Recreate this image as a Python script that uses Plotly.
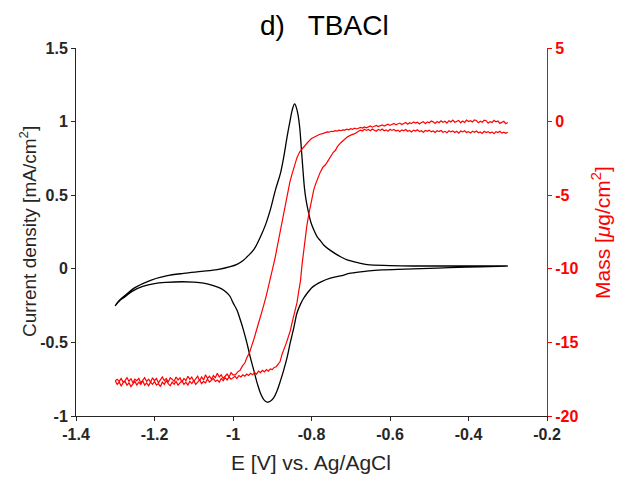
import plotly.graph_objects as go

# ---------------- data ----------------
# Current density (mA/cm^2) vs E (V), cathodic sweep then anodic sweep
cv_E = [-0.30, -0.37, -0.45, -0.50, -0.56, -0.62, -0.66, -0.70, -0.726, -0.75, -0.777, -0.79, -0.80, -0.811,
        -0.82, -0.828, -0.837, -0.845, -0.854, -0.862, -0.871, -0.879, -0.888, -0.896, -0.905, -0.913,
        -0.921, -0.930, -0.938, -0.947, -0.956, -0.964, -0.973, -0.981, -0.990, -1.00, -1.007, -1.015,
        -1.03, -1.05, -1.075, -1.10, -1.13, -1.17, -1.20, -1.23, -1.255, -1.275, -1.29, -1.30,
        -1.29, -1.27, -1.25, -1.21, -1.17, -1.126, -1.08, -1.04, -1.007, -0.99, -0.975, -0.964, -0.947,
        -0.930, -0.917, -0.905, -0.892, -0.879, -0.870, -0.862, -0.855, -0.849, -0.843, -0.838, -0.834,
        -0.830, -0.826, -0.822, -0.818, -0.814, -0.809, -0.802, -0.794, -0.785, -0.777, -0.769, -0.752,
        -0.726, -0.709, -0.68, -0.658, -0.60, -0.54, -0.45, -0.30]
cv_j = [0.018, 0.014, 0.008, 0.003, -0.002, -0.007, -0.016, -0.03, -0.048, -0.062, -0.09, -0.11, -0.13, -0.166,
        -0.20, -0.24, -0.30, -0.40, -0.50, -0.60, -0.69, -0.76, -0.83, -0.875, -0.90, -0.905,
        -0.89, -0.845, -0.78, -0.69, -0.60, -0.51, -0.42, -0.35, -0.28, -0.23, -0.19, -0.165,
        -0.135, -0.115, -0.098, -0.091, -0.088, -0.092, -0.10, -0.12, -0.15, -0.19, -0.22, -0.25,
        -0.215, -0.17, -0.128, -0.078, -0.048, -0.031, -0.018, -0.006, 0.014, 0.03, 0.055, 0.082, 0.13,
        0.218, 0.30, 0.40, 0.535, 0.65, 0.77, 0.90, 1.00, 1.08, 1.12, 1.09, 1.04,
        0.96, 0.82, 0.68, 0.55, 0.47, 0.40, 0.32, 0.264, 0.215, 0.19, 0.162, 0.125,
        0.082, 0.06, 0.04, 0.028, 0.022, 0.019, 0.019, 0.019]

# ---- Mass change (ug/cm^2), cathodic sweep (-0.3 -> -1.3) ----
# flat upper part
mcat_top_E = [-0.300, -0.305, -0.310, -0.315, -0.320, -0.325, -0.330, -0.335, -0.340, -0.345,
              -0.350, -0.355, -0.360, -0.365, -0.370, -0.375, -0.380, -0.385, -0.390, -0.395,
              -0.400, -0.405, -0.410, -0.415, -0.420, -0.425, -0.430, -0.435, -0.440, -0.445,
              -0.450, -0.455, -0.460, -0.465, -0.470, -0.475, -0.480, -0.485, -0.490, -0.495,
              -0.500, -0.505, -0.510, -0.515, -0.520, -0.525, -0.530, -0.535, -0.540, -0.545,
              -0.550, -0.555, -0.560, -0.565, -0.570, -0.575, -0.580, -0.585, -0.590, -0.595,
              -0.600, -0.605, -0.610, -0.615, -0.620, -0.625, -0.630, -0.635, -0.640, -0.645,
              -0.650, -0.655, -0.660, -0.665, -0.670, -0.675, -0.680, -0.685, -0.690, -0.695,
              -0.700, -0.705, -0.710, -0.715, -0.720, -0.725, -0.730, -0.735, -0.740, -0.745,
              -0.750, -0.755, -0.760, -0.765, -0.770]
mcat_top_m = [-0.06, -0.14, 0.02, -0.08, -0.12, 0.04, -0.02, 0.08, -0.06, 0.00,
              -0.10, 0.06, 0.10, -0.04, 0.02, -0.08, 0.08, 0.12, -0.02, 0.06,
              0.00, 0.10, -0.06, 0.04, -0.08, 0.08, 0.02, -0.04, 0.10, -0.02,
              0.06, -0.10, 0.02, -0.04, 0.06, -0.08, 0.00, -0.12, -0.02, 0.04,
              -0.08, -0.02, -0.14, 0.00, -0.06, -0.16, -0.04, -0.10, -0.02, -0.14,
              -0.08, -0.18, -0.06, -0.12, -0.20, -0.10, -0.16, -0.22, -0.12, -0.20,
              -0.26, -0.18, -0.24, -0.30, -0.22, -0.28, -0.34, -0.26, -0.32, -0.38,
              -0.30, -0.36, -0.42, -0.36, -0.44, -0.40, -0.46, -0.50, -0.44, -0.52,
              -0.48, -0.56, -0.52, -0.58, -0.56, -0.62, -0.58, -0.64, -0.62, -0.68,
              -0.66, -0.72, -0.70, -0.76, -0.80]
# steep drop (left S)
mcat_s_E = [-0.78, -0.79, -0.80, -0.81, -0.82, -0.83, -0.837, -0.845, -0.85, -0.855, -0.86, -0.865,
            -0.871, -0.877, -0.883, -0.888, -0.893, -0.898, -0.904, -0.909, -0.915, -0.922, -0.928,
            -0.935, -0.941, -0.947, -0.952, -0.958, -0.964, -0.970, -0.976, -0.982, -0.988, -0.994]
mcat_s_m = [-0.88, -1.02, -1.15, -1.42, -1.70, -2.05, -2.45, -3.1, -3.6, -4.1, -4.75, -5.4,
            -6.2, -7.0, -7.8, -8.6, -9.3, -9.9, -10.6, -11.2, -11.8, -12.5, -13.1,
            -13.7, -14.3, -14.8, -15.2, -15.7, -16.0, -16.4, -16.6, -16.9, -17.0, -17.2]
# flat lower part
mcat_bot_E = [-1.000, -1.005, -1.010, -1.015, -1.020, -1.025, -1.030, -1.035, -1.040, -1.045,
              -1.050, -1.055, -1.060, -1.065, -1.070, -1.075, -1.080, -1.085, -1.090, -1.095,
              -1.100, -1.105, -1.110, -1.115, -1.120, -1.125, -1.130, -1.135, -1.140, -1.145,
              -1.150, -1.155, -1.160, -1.165, -1.170, -1.175, -1.180, -1.185, -1.190, -1.195,
              -1.200, -1.205, -1.210, -1.215, -1.220, -1.225, -1.230, -1.235, -1.240, -1.245,
              -1.250, -1.255, -1.260, -1.265, -1.270, -1.275, -1.280, -1.285, -1.290, -1.295, -1.300]
mcat_bot_m = [-17.20, -17.05, -17.35, -17.15, -17.30, -17.45, -17.20, -17.35, -17.10, -17.40,
              -17.25, -17.50, -17.30, -17.45, -17.20, -17.55, -17.35, -17.60, -17.30, -17.45,
              -17.65, -17.35, -17.50, -17.30, -17.60, -17.45, -17.70, -17.40, -17.55, -17.35,
              -17.65, -17.50, -17.40, -17.70, -17.45, -17.60, -17.35, -17.55, -17.75, -17.45,
              -17.60, -17.40, -17.70, -17.50, -17.65, -17.40, -17.55, -17.75, -17.45, -17.60,
              -17.50, -17.75, -17.45, -17.65, -17.40, -17.60, -17.70, -17.45, -17.65, -17.50, -17.60]

# ---- Mass change (ug/cm^2), anodic sweep (-1.3 -> -0.3) ----
man_bot_E = [-1.300, -1.295, -1.290, -1.285, -1.280, -1.275, -1.270, -1.265, -1.260, -1.255,
             -1.250, -1.245, -1.240, -1.235, -1.230, -1.225, -1.220, -1.215, -1.210, -1.205,
             -1.200, -1.195, -1.190, -1.185, -1.180, -1.175, -1.170, -1.165, -1.160, -1.155,
             -1.150, -1.145, -1.140, -1.135, -1.130, -1.125, -1.120, -1.115, -1.110, -1.105,
             -1.100, -1.095, -1.090, -1.085, -1.080, -1.075, -1.070, -1.065, -1.060, -1.055,
             -1.050, -1.045, -1.040, -1.035, -1.030, -1.025, -1.020, -1.015, -1.010, -1.005,
             -1.000, -0.995, -0.990, -0.985, -0.980, -0.975, -0.970, -0.965, -0.960, -0.955,
             -0.950, -0.945, -0.940, -0.935, -0.930, -0.925, -0.920, -0.915, -0.910, -0.905,
             -0.900, -0.895, -0.890, -0.885, -0.880]
man_bot_m = [-17.60, -17.85, -17.70, -17.95, -17.75, -17.65, -17.90, -17.75, -18.00, -17.80,
             -17.65, -17.90, -17.70, -17.85, -17.60, -17.90, -17.75, -17.95, -17.70, -17.85,
             -17.65, -17.90, -17.80, -18.00, -17.70, -17.85, -17.60, -17.80, -17.95, -17.70,
             -17.85, -17.65, -17.90, -17.75, -17.60, -17.85, -17.70, -17.90, -17.65, -17.80,
             -17.60, -17.85, -17.70, -17.55, -17.80, -17.65, -17.75, -17.50, -17.70, -17.60,
             -17.45, -17.65, -17.55, -17.70, -17.45, -17.60, -17.40, -17.55, -17.35, -17.50,
             -17.40, -17.30, -17.45, -17.25, -17.35, -17.20, -17.30, -17.15, -17.25, -17.10,
             -17.20, -17.05, -17.15, -16.95, -17.05, -16.90, -17.00, -16.85, -16.95, -16.80,
             -16.85, -16.70, -16.65, -16.50, -16.30]
# steep rise (right S)
man_s_E = [-0.875, -0.870, -0.865, -0.86, -0.854, -0.849, -0.845, -0.841, -0.837, -0.833, -0.828,
           -0.824, -0.820, -0.816, -0.812, -0.807, -0.803, -0.798, -0.794, -0.789, -0.784, -0.778,
           -0.771, -0.765, -0.760, -0.752, -0.745, -0.739, -0.734, -0.726, -0.718, -0.709, -0.70, -0.69]
man_s_m = [-15.8, -15.5, -15.1, -14.7, -14.2, -13.6, -13.2, -12.8, -12.3, -11.6, -10.8,
           -9.7, -8.7, -7.8, -7.1, -6.3, -5.7, -5.1, -4.6, -4.2, -3.8, -3.45,
           -3.1, -2.95, -2.75, -2.4, -2.1, -1.95, -1.7, -1.45, -1.25, -1.05, -0.92, -0.82]
man_top_E = [-0.680, -0.675, -0.670, -0.665, -0.660, -0.655, -0.650, -0.645, -0.640, -0.635,
             -0.630, -0.625, -0.620, -0.615, -0.610, -0.605, -0.600, -0.595, -0.590, -0.585,
             -0.580, -0.575, -0.570, -0.565, -0.560, -0.555, -0.550, -0.545, -0.540, -0.535,
             -0.530, -0.525, -0.520, -0.515, -0.510, -0.505, -0.500, -0.495, -0.490, -0.485,
             -0.480, -0.475, -0.470, -0.465, -0.460, -0.455, -0.450, -0.445, -0.440, -0.435,
             -0.430, -0.425, -0.420, -0.415, -0.410, -0.405, -0.400, -0.395, -0.390, -0.385,
             -0.380, -0.375, -0.370, -0.365, -0.360, -0.355, -0.350, -0.345, -0.340, -0.335,
             -0.330, -0.325, -0.320, -0.315, -0.310, -0.305, -0.300]
man_top_m = [-0.66, -0.58, -0.64, -0.52, -0.60, -0.54, -0.62, -0.50, -0.58, -0.66,
             -0.54, -0.60, -0.50, -0.62, -0.56, -0.66, -0.52, -0.60, -0.54, -0.64,
             -0.58, -0.68, -0.56, -0.62, -0.54, -0.66, -0.60, -0.70, -0.58, -0.64,
             -0.56, -0.68, -0.62, -0.72, -0.60, -0.66, -0.58, -0.70, -0.64, -0.74,
             -0.62, -0.68, -0.60, -0.72, -0.66, -0.76, -0.62, -0.70, -0.64, -0.74,
             -0.66, -0.78, -0.64, -0.70, -0.62, -0.74, -0.68, -0.78, -0.66, -0.72,
             -0.64, -0.76, -0.70, -0.80, -0.66, -0.74, -0.68, -0.78, -0.70, -0.82,
             -0.68, -0.74, -0.66, -0.78, -0.72, -0.80, -0.72]

mass_cat_E = mcat_top_E + mcat_s_E + mcat_bot_E
mass_cat_m = mcat_top_m + mcat_s_m + mcat_bot_m
mass_an_E = man_bot_E + man_s_E + man_top_E
mass_an_m = man_bot_m + man_s_m + man_top_m

x_ticks = [-1.4, -1.2, -1.0, -0.8, -0.6, -0.4, -0.2]
x_ticktext = ["-1.4", "-1.2", "-1", "-0.8", "-0.6", "-0.4", "-0.2"]
y_ticks = [-1, -0.5, 0, 0.5, 1, 1.5]
y_ticktext = ["-1", "-0.5", "0", "0.5", "1", "1.5"]
y2_ticks = [-20, -15, -10, -5, 0, 5]
y2_ticktext = ["-20", "-15", "-10", "-5", "0", "5"]

# ---------------- figure ----------------
FONT = "Liberation Sans, Arial, sans-serif"
AX = "#262626"
RED = "#FF0000"
W, H = 624, 478
ML, MR, MT, MB = 76, 77, 48, 62
PW, PH = W - ML - MR, H - MT - MB


def px_x(p):
    return (p - ML) / PW


def px_y(p):
    return (H - MB - p) / PH


fig = go.Figure()
fig.add_trace(go.Scatter(x=cv_E, y=cv_j, mode="lines", line=dict(color="#000000", width=1.3),
                         line_shape="spline", showlegend=False, yaxis="y"))
fig.add_trace(go.Scatter(x=mass_cat_E, y=mass_cat_m, mode="lines", line=dict(color=RED, width=1.2),
                         showlegend=False, yaxis="y2"))
fig.add_trace(go.Scatter(x=mass_an_E, y=mass_an_m, mode="lines", line=dict(color=RED, width=1.2),
                         showlegend=False, yaxis="y2"))

tickfont = dict(size=16, weight="bold", color=AX, family=FONT)
fig.update_layout(
    width=W, height=H,
    margin=dict(l=ML, r=MR, t=MT, b=MB),
    paper_bgcolor="white", plot_bgcolor="white",
    font=dict(family=FONT, color=AX),
    xaxis=dict(range=[-1.4, -0.2], tickvals=x_ticks, ticktext=x_ticktext,
               showgrid=False, zeroline=False, showline=True, linecolor=AX, linewidth=1,
               ticks="outside", ticklen=4, tickcolor=AX, tickfont=tickfont),
    yaxis=dict(range=[-1, 1.5], tickvals=y_ticks, ticktext=y_ticktext,
               showgrid=False, zeroline=False, showline=True, linecolor=AX, linewidth=1,
               ticks="outside", ticklen=4, tickcolor=AX, tickfont=tickfont),
    yaxis2=dict(range=[-20, 5], tickvals=y2_ticks, ticktext=y2_ticktext, overlaying="y", side="right",
                showgrid=False, zeroline=False, showline=True, linecolor=RED, linewidth=1,
                ticks="outside", ticklen=4, tickcolor=RED,
                tickfont=dict(size=16, weight="bold", color=RED, family=FONT)),
    annotations=[
        dict(text="d)   TBACl", x=px_x(324), y=px_y(25), xref="paper", yref="paper", showarrow=False,
             xanchor="center", yanchor="middle", font=dict(size=28, color="#000000", family=FONT)),
        dict(text="E [V] vs. Ag/AgCl", x=px_x(311), y=px_y(462), xref="paper", yref="paper",
             showarrow=False, xanchor="center", yanchor="middle",
             font=dict(size=21, color=AX, family=FONT)),
        dict(text="Current density [mA/cm<sup>2</sup>]", x=px_x(28), y=px_y(232), xref="paper",
             yref="paper", showarrow=False, xanchor="center", yanchor="middle", textangle=-90,
             font=dict(size=19, color=AX, family=FONT)),
        dict(text="Mass [<i>μ</i>g/cm<sup>2</sup>]", x=px_x(601), y=px_y(233), xref="paper",
             yref="paper", showarrow=False, xanchor="center", yanchor="middle", textangle=-90,
             font=dict(size=21, color=RED, family=FONT)),
    ],
)

fig.write_html("out.html")
